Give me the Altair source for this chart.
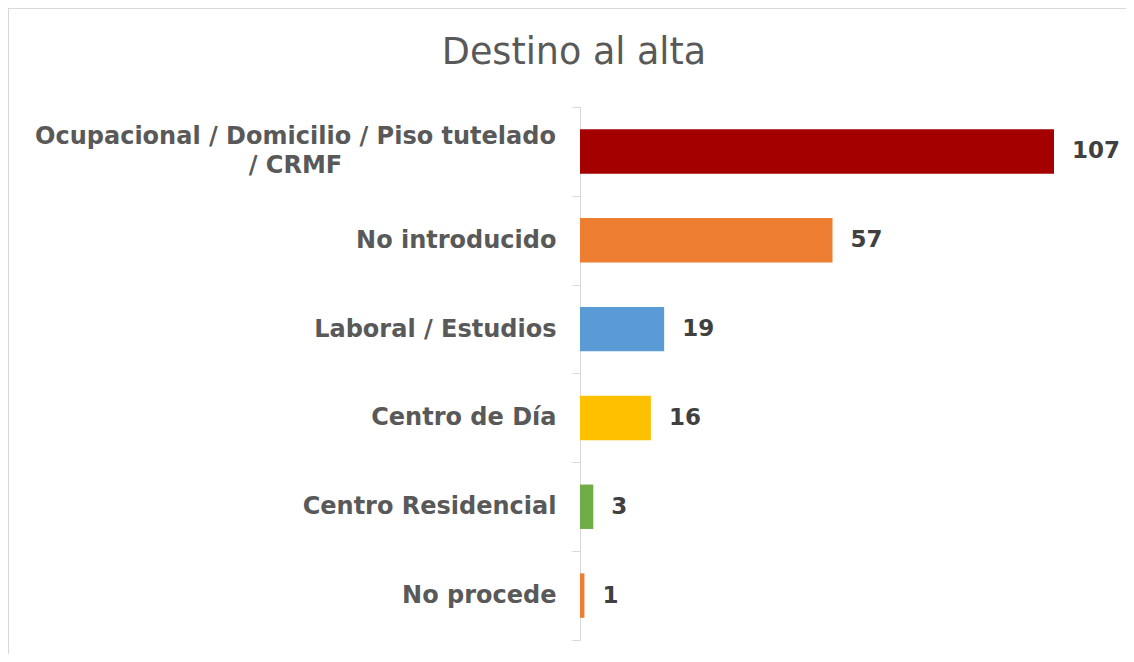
import altair as alt
import pandas as pd

categories = [
    "Ocupacional / Domicilio / Piso tutelado / CRMF",
    "No introducido",
    "Laboral / Estudios",
    "Centro de Día",
    "Centro Residencial",
    "No procede",
]
values = [107, 57, 19, 16, 3, 1]
colors = ["#A50000", "#ED7D31", "#5B9BD5", "#FFC000", "#70AD47", "#ED7D31"]
title_text = "Destino al alta"

df = pd.DataFrame({"cat": categories, "val": values})

W, H = 1118, 646
FONT = "DejaVu Sans"

long_test = "datum.value == 'Ocupacional / Domicilio / Piso tutelado / CRMF'"
label_expr = (
    "datum.label == 'Ocupacional / Domicilio / Piso tutelado / CRMF' ? "
    "['Ocupacional / Domicilio / Piso tutelado', '/ CRMF'] : datum.label"
)

y_enc = alt.Y(
    "cat:N",
    sort=categories,
    scale=alt.Scale(range=[99, 632], paddingInner=0, paddingOuter=0),
    axis=alt.Axis(
        title=None,
        offset=-572,
        domainColor="#D9D9D9",
        tickColor="#D9D9D9",
        tickSize=8,
        tickBand="extent",
        labelPadding={"condition": {"test": long_test, "value": 277}, "value": 16},
        labelAlign={"condition": {"test": long_test, "value": "center"}, "value": "right"},
        labelOffset={"condition": {"test": long_test, "value": -14.5}, "value": 0},
        labelFont=FONT,
        labelFontSize=24,
        labelFontWeight="bold",
        labelColor="#595959",
        labelLineHeight=29,
        labelExpr=label_expr,
        labelLimit=0,
        grid=False,
    ),
)
x_enc = alt.X("val:Q", scale=alt.Scale(domain=[0, 107], range=[572, 1046], nice=False), axis=None)

base = alt.Chart(df)

bars = base.mark_bar(height=alt.RelativeBandSize(0.5)).encode(
    x=x_enc,
    y=y_enc,
    color=alt.Color("cat:N", scale=alt.Scale(domain=categories, range=colors), legend=None),
)

text = base.mark_text(
    align="left", baseline="middle", dx=18, font=FONT, fontSize=23, fontWeight="bold", color="#404040"
).encode(x=x_enc, y=alt.Y("cat:N", sort=categories), text="val:Q")

frame_top = alt.Chart(df).mark_rule(color="#D9D9D9", strokeWidth=2).encode(
    x=alt.value(0), x2=alt.value(W), y=alt.value(0)
)
frame_left = alt.Chart(df).mark_rule(color="#D9D9D9", strokeWidth=2).encode(
    x=alt.value(0), y=alt.value(0), y2=alt.value(H)
)

title = alt.Chart(pd.DataFrame({"t": [title_text]})).mark_text(
    font=FONT, fontSize=36.5, color="#595959", align="center", baseline="alphabetic"
).encode(x=alt.value(566), y=alt.value(56), text="t:N")

chart = (
    alt.layer(frame_top, frame_left, bars, text, title)
    .properties(
        width=W,
        height=H,
        padding=0,
        autosize=alt.AutoSizeParams(type="none"),
    )
    .configure_view(stroke=None)
    .configure(background="white")
)

chart.save("out.html", embed_options={"renderer": "svg", "actions": False})
